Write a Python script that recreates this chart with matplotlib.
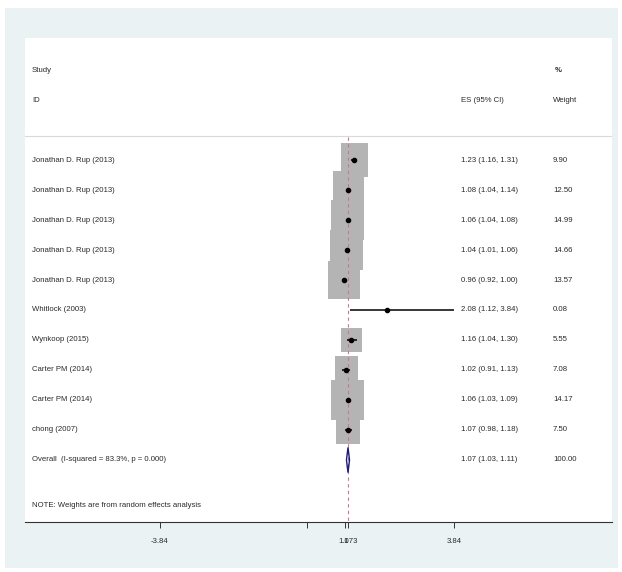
import matplotlib
matplotlib.use("Agg")
import matplotlib.pyplot as plt
from matplotlib.path import Path
from matplotlib.patches import Rectangle, Polygon

# ---- data -------------------------------------------------------------
studies = [
    "Jonathan D. Rup (2013)",
    "Jonathan D. Rup (2013)",
    "Jonathan D. Rup (2013)",
    "Jonathan D. Rup (2013)",
    "Jonathan D. Rup (2013)",
    "Whitlock (2003)",
    "Wynkoop (2015)",
    "Carter PM (2014)",
    "Carter PM (2014)",
    "chong (2007)",
]
es = [1.23, 1.08, 1.06, 1.04, 0.96, 2.08, 1.16, 1.02, 1.06, 1.07]
ci_low = [1.16, 1.04, 1.04, 1.01, 0.92, 1.12, 1.04, 0.91, 1.03, 0.98]
ci_high = [1.31, 1.14, 1.08, 1.06, 1.00, 3.84, 1.30, 1.13, 1.09, 1.18]
weights = [9.90, 12.50, 14.99, 14.66, 13.57, 0.08, 5.55, 7.08, 14.17, 7.50]

overall_label = "Overall  (I-squared = 83.3%, p = 0.000)"
overall_es, overall_low, overall_high = 1.07, 1.03, 1.11
overall_weight = 100.00
note = "NOTE: Weights are from random effects analysis"

tick_values = [-3.84, 0, 1, 1.073, 3.84]
tick_labels = ["-3.84", "", "1", "1.073", "3.84"]

# ---- figure -----------------------------------------------------------
W, H = 622, 572
plt.rcParams["font.family"] = ["Liberation Sans", "DejaVu Sans"]
fig = plt.figure(figsize=(W / 100, H / 100), dpi=100)
fig.patch.set_facecolor("white")

bg = "#eaf2f3"
fig.add_artist(Rectangle((5 / W, (H - 568) / H), (618 - 5) / W, (568 - 8) / H,
                         transform=fig.transFigure, facecolor=bg,
                         edgecolor="none", zorder=-5))

ax = fig.add_axes([25 / W, (H - 522) / H, 587 / W, 484 / H])
ax.set_zorder(1)
ax.set_facecolor("white")
ax.set_xlim(-7.363, 7.963)
ax.set_ylim(12.067, -4.067)
for side in ("top", "right", "left"):
    ax.spines[side].set_visible(False)
ax.spines["bottom"].set_color("#333333")
ax.spines["bottom"].set_linewidth(0.8)
ax.set_yticks([])

fs = 5.6
tc = "#2a2a2a"

rows = list(range(len(studies)))
overall_row = len(studies)

# weight boxes (slightly taller than wide), area proportional to weight
rect_marker = Path([(-0.41, -0.5), (0.41, -0.5), (0.41, 0.5), (-0.41, 0.5), (-0.41, -0.5)],
                   [Path.MOVETO, Path.LINETO, Path.LINETO, Path.LINETO, Path.CLOSEPOLY])
sizes = [(10.5 * w ** 0.5 * 0.72) ** 2 for w in weights]
ax.scatter(es, rows, s=sizes, marker=rect_marker, color="#b4b4b4",
           edgecolors="none", zorder=2)

# overall effect reference line
ax.plot([overall_es, overall_es], [-0.77, 12.067], color="#c8788a",
        lw=0.8, dashes=(3, 3), zorder=3)

# confidence intervals and point estimates
ax.hlines(rows, ci_low, ci_high, color="black", lw=1.1, zorder=4)
ax.scatter(es, rows, s=9, color="black", zorder=5)

# pooled diamond
ax.add_patch(Polygon([(overall_low, overall_row), (overall_es, overall_row - 0.42),
                      (overall_high, overall_row), (overall_es, overall_row + 0.42)],
                     closed=True, facecolor="none", edgecolor="#1c1c7a", lw=1.0, zorder=5))

# header separator
ax.axhline(-0.8, color="#d6dadb", lw=0.8, zorder=1)

# ---- text columns -----------------------------------------------------
yt = ax.get_yaxis_transform()
x_lab, x_es, x_wt = 0.012, 0.743, 0.8995

ax.text(x_lab, -3, "Study", transform=yt, fontsize=fs, color=tc, va="center")
ax.text(x_lab, -2, "ID", transform=yt, fontsize=fs, color=tc, va="center")
ax.text(x_es, -2, "ES (95% CI)", transform=yt, fontsize=fs, color=tc, va="center")
ax.text(x_wt + 0.003, -3, "%", transform=yt, fontsize=fs, color=tc, va="center",
        fontweight="bold")
ax.text(x_wt, -2, "Weight", transform=yt, fontsize=fs, color=tc, va="center")

for r, name, e, lo, hi, w in zip(rows, studies, es, ci_low, ci_high, weights):
    ax.text(x_lab, r, name, transform=yt, fontsize=fs, color=tc, va="center")
    ax.text(x_es, r, f"{e:.2f} ({lo:.2f}, {hi:.2f})", transform=yt, fontsize=fs,
            color=tc, va="center")
    ax.text(x_wt, r, f"{w:.2f}", transform=yt, fontsize=fs, color=tc, va="center")

ax.text(x_lab, overall_row, overall_label, transform=yt, fontsize=fs, color=tc, va="center")
ax.text(x_es, overall_row,
        f"{overall_es:.2f} ({overall_low:.2f}, {overall_high:.2f})",
        transform=yt, fontsize=fs, color=tc, va="center")
ax.text(x_wt, overall_row, f"{overall_weight:.2f}", transform=yt, fontsize=fs,
        color=tc, va="center")
ax.text(x_lab, overall_row + 1.52, note, transform=yt, fontsize=fs, color=tc, va="center")

# ---- x axis -----------------------------------------------------------
ax.set_xticks(tick_values)
ax.set_xticklabels(tick_labels)
ax.tick_params(axis="x", direction="out", length=4.3, width=0.7, color="#333333",
               labelsize=fs, labelcolor=tc, pad=7)

fig.savefig("out.png", dpi=100, facecolor=fig.get_facecolor())
